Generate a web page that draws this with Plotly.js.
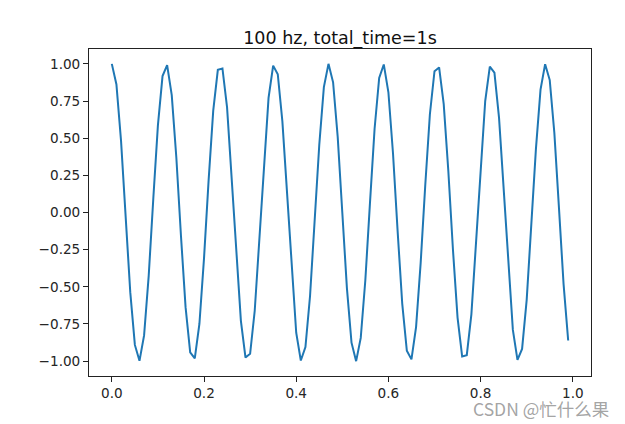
<!DOCTYPE html>
<html>
<head>
<meta charset="utf-8">
<script src="https://cdn.plot.ly/plotly-3.0.1.min.js"></script>
<style>html,body{margin:0;padding:0;background:#fff;}#chart{width:625px;height:424px;}</style>
</head>
<body>
<div id="chart"></div>
<script>
const titleText = "100 hz, total_time=1s";
const times = [0.00,0.01,0.02,0.03,0.04,0.05,0.06,0.07,0.08,0.09,
  0.10,0.11,0.12,0.13,0.14,0.15,0.16,0.17,0.18,0.19,
  0.20,0.21,0.22,0.23,0.24,0.25,0.26,0.27,0.28,0.29,
  0.30,0.31,0.32,0.33,0.34,0.35,0.36,0.37,0.38,0.39,
  0.40,0.41,0.42,0.43,0.44,0.45,0.46,0.47,0.48,0.49,
  0.50,0.51,0.52,0.53,0.54,0.55,0.56,0.57,0.58,0.59,
  0.60,0.61,0.62,0.63,0.64,0.65,0.66,0.67,0.68,0.69,
  0.70,0.71,0.72,0.73,0.74,0.75,0.76,0.77,0.78,0.79,
  0.80,0.81,0.82,0.83,0.84,0.85,0.86,0.87,0.88,0.89,
  0.90,0.91,0.92,0.93,0.94,0.95,0.96,0.97,0.98,0.99];
const signal = [1.000,0.861,0.482,-0.031,-0.536,-0.891,-0.998,-0.827,-0.426,0.094,
  0.588,0.918,0.992,0.790,0.368,-0.156,-0.637,-0.941,-0.982,-0.750,
  -0.309,0.218,0.685,0.960,0.969,0.707,0.249,-0.279,-0.729,-0.976,
  -0.951,-0.661,-0.187,0.339,0.771,0.988,0.930,0.613,0.125,-0.397,
  -0.809,-0.996,-0.905,-0.562,-0.063,0.454,0.844,1.000,0.876,0.509,
  0.000,-0.509,-0.876,-1.000,-0.844,-0.454,0.063,0.562,0.905,0.996,
  0.809,0.397,-0.125,-0.613,-0.930,-0.988,-0.771,-0.339,0.187,0.661,
  0.951,0.976,0.729,0.279,-0.249,-0.707,-0.969,-0.960,-0.685,-0.218,
  0.309,0.750,0.982,0.941,0.637,0.156,-0.368,-0.790,-0.992,-0.918,
  -0.588,-0.094,0.426,0.827,0.998,0.891,0.536,0.031,-0.482,-0.861];
const xTicks = [0.0,0.2,0.4,0.6,0.8,1.0];
const yTicks = [-1.00,-0.75,-0.50,-0.25,0.00,0.25,0.50,0.75,1.00];
const watermark = "CSDN @忙什么果";

const font = "DejaVu Sans, sans-serif";
const trace = {
  x: times, y: signal, type: 'scatter', mode: 'lines',
  line: {color: '#1f77b4', width: 2}, hoverinfo: 'skip'
};
const axisCommon = {
  showgrid: false, zeroline: false, showline: true, mirror: true,
  linecolor: '#222', linewidth: 1, ticks: 'outside', ticklen: 5,
  tickcolor: '#222', tickwidth: 1,
  tickfont: {family: font, size: 13.6, color: '#262626'}
};
const layout = {
  width: 625, height: 424,
  margin: {l: 89, r: 34, t: 49, b: 48},
  paper_bgcolor: '#fff', plot_bgcolor: '#fff',
  showlegend: false,
  title: {text: titleText, font: {family: font, size: 17.5, color: '#111'},
    x: 0.5, xref: 'paper', y: 1, yref: 'paper', yanchor: 'bottom', pad: {b: 5}},
  xaxis: Object.assign({}, axisCommon, {range: [-0.0495, 1.0395], tickvals: xTicks, tickformat: '.1f'}),
  yaxis: Object.assign({}, axisCommon, {range: [-1.1, 1.1], tickvals: yTicks, tickformat: '.2f'}),
  annotations: [{
    text: watermark, xref: 'paper', yref: 'paper', x: 1.04, y: -0.055,
    xanchor: 'right', yanchor: 'top', showarrow: false,
    font: {family: "Noto Sans CJK SC, sans-serif", size: 17.5, color: 'rgba(140,140,140,0.8)'}
  }]
};
Plotly.newPlot('chart', [trace], layout, {displayModeBar: false, staticPlot: true});
</script>
</body>
</html>
